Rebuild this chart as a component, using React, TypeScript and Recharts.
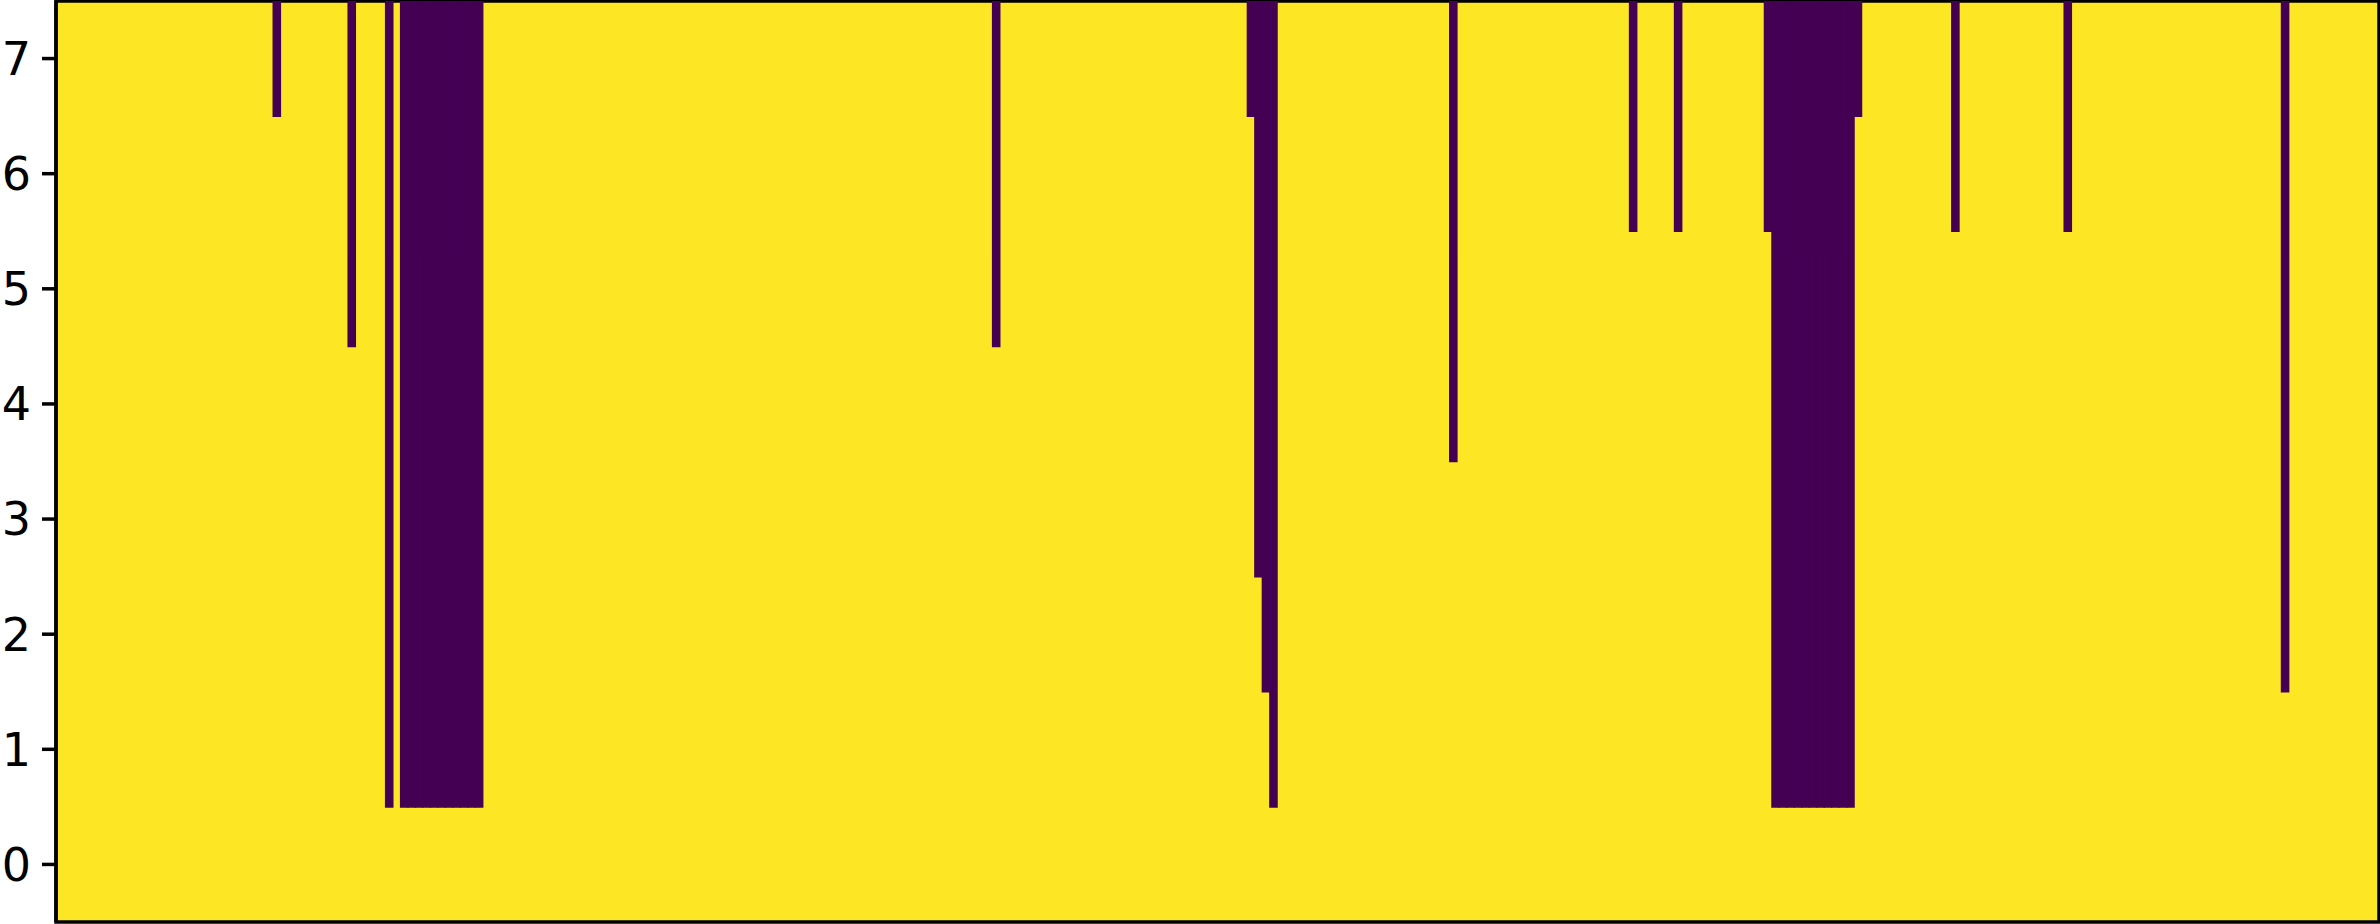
import { BarChart, Bar, XAxis, YAxis, ReferenceArea } from "recharts";

// grid is 310 columns x 8 rows (0..7); purple cells run from row 7 down to lowestDarkRow
const COLS = 310;
const runStart = [29, 39, 44, 46, 125, 159, 160, 161, 162, 186, 210, 216, 228, 229, 240, 253, 268, 297];
const runEnd = [29, 39, 44, 56, 125, 159, 160, 161, 162, 186, 210, 216, 228, 239, 240, 253, 268, 297];
const lowestDarkRow = [7, 5, 1, 1, 5, 7, 3, 2, 1, 4, 6, 6, 6, 1, 7, 6, 6, 2];
const yTicks = [0, 1, 2, 3, 4, 5, 6, 7];

const YELLOW = "#fde725";
const PURPLE = "#440154";

const buildData = () => {
    const rows: { col: number; dark: [number, number] | null }[] = [];
    for (let c = 0; c < COLS; c++) rows.push({ col: c, dark: null });
    runStart.forEach((s, i) => {
        for (let c = s; c <= runEnd[i]; c++) {
            rows[c].dark = [lowestDarkRow[i] - 0.5, 7.5];
        }
    });
    return rows;
};

const data = buildData();

export default function App() {
    return (
        <div style={{ position: "fixed", top: 0, left: 0, width: 2380, height: 924, background: "#fff" }}>
            <BarChart
                width={2380}
                height={924}
                data={data}
                margin={{ top: 1, right: 1, bottom: 2, left: 0 }}
                barCategoryGap={0}
                barGap={0}
            >
                <XAxis dataKey="col" type="category" hide />
                <YAxis
                    type="number"
                    domain={[-0.5, 7.5]}
                    ticks={yTicks}
                    allowDataOverflow
                    width={56}
                    tickSize={14}
                    tickMargin={11}
                    axisLine={{ stroke: "#000", strokeWidth: 3.5 }}
                    tickLine={{ stroke: "#000", strokeWidth: 3.5 }}
                    tick={{ fill: "#000", fontSize: 46, fontFamily: "DejaVu Sans" }}
                />
                <ReferenceArea y1={-0.5} y2={7.5} fill={YELLOW} fillOpacity={1} stroke="none" />
                <Bar
                    dataKey="dark"
                    fill={PURPLE}
                    stroke={PURPLE}
                    strokeWidth={1.6}
                    isAnimationActive={false}
                />
                <ReferenceArea y1={-0.5} y2={7.5} fill="none" stroke="#000" strokeWidth={3.5} />
            </BarChart>
        </div>
    );
}
